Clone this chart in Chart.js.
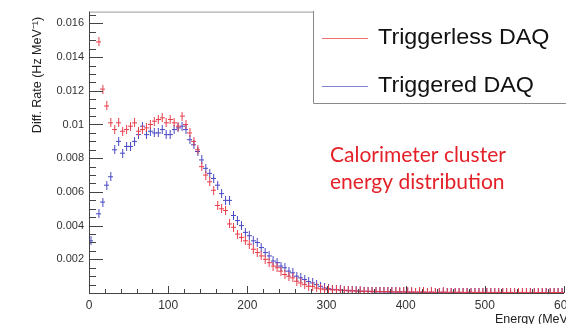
<!DOCTYPE html>
<html>
<head>
<meta charset="utf-8">
<script src="https://cdn.jsdelivr.net/npm/chart.js@4"></script>
<style>
html,body{margin:0;padding:0;background:#fff;overflow:hidden;}
#wrap{position:relative;width:620px;height:324px;}
</style>
</head>
<body>
<div id="wrap"><canvas id="c"></canvas></div>
<script>
// Bin centres (MeV)
const energies = [2.5,7.5,12.5,17.5,22.5,27.5,32.5,37.5,42.5,47.5,52.5,57.5,62.5,67.5,72.5,77.5,82.5,87.5,92.5,97.5,
102.5,107.5,112.5,117.5,122.5,127.5,132.5,137.5,142.5,147.5,152.5,157.5,162.5,167.5,172.5,177.5,182.5,187.5,192.5,197.5,
202.5,207.5,212.5,217.5,222.5,227.5,232.5,237.5,242.5,247.5,252.5,257.5,262.5,267.5,272.5,277.5,282.5,287.5,292.5,297.5,
302.5,307.5,312.5,317.5,322.5,327.5,332.5,337.5,342.5,347.5,352.5,357.5,362.5,367.5,372.5,377.5,382.5,387.5,392.5,397.5,
402.5,407.5,412.5,417.5,422.5,427.5,432.5,437.5,442.5,447.5,452.5,457.5,462.5,467.5,472.5,477.5,482.5,487.5,492.5,497.5,
502.5,507.5,512.5,517.5,522.5,527.5,532.5,537.5,542.5,547.5,552.5,557.5,562.5,567.5,572.5,577.5,582.5,587.5,592.5,597.5];

// Triggerless DAQ (Hz/MeV)
const triggerless = [null,null,0.0149,0.0121,0.0111,0.0101,0.0097,0.0101,0.0096,0.0097,
0.0099,0.0101,0.0096,0.0097,0.0098,0.0100,0.0102,0.0103,0.0104,0.0101,
0.0103,0.0101,0.0099,0.0105,0.0100,0.0095,0.0090,0.0085,0.0075,0.0070,
0.0066,0.0061,0.0052,0.0050,0.0049,0.0041,0.0039,0.0035,0.0033,0.0031,
0.0029,0.0026,0.0024,0.0022,0.0020,0.0018,0.0016,0.0015,0.0013,0.0011,
0.0010,0.0009,0.0007,0.0006,0.0005,0.0004,0.0004,0.0003,0.00025,0.0002,
0.00022,0.00018,0.00020,0.00016,0.00017,0.00012,0.00014,0.00011,0.00012,0.00009,
0.00011,0.00008,0.00010,0.00009,0.00007,0.00008,0.00009,0.00006,0.00008,0.00007,
0.00006,0.00007,0.00005,0.00006,0.00007,0.00005,0.00006,0.00004,0.00005,0.00006,
0.00004,0.00005,0.00004,0.00005,0.00003,0.00004,0.00005,0.00003,0.00004,0.00004,
0.00003,0.00004,0.00003,0.00004,0.00003,0.00003,0.00004,0.00002,0.00003,0.00004,
0.00003,0.00002,0.00003,0.00003,0.00002,0.00003,0.00002,0.00003,0.00002,0.00002];

// Triggered DAQ (Hz/MeV)
const triggered = [0.0031,null,0.0047,0.0054,0.0064,0.0069,0.0085,0.0090,0.0083,0.0087,
0.0087,0.0090,0.0094,0.0099,0.0094,0.0096,0.0095,0.0095,0.0097,0.0094,
0.0094,0.0097,0.0098,0.0099,0.0097,0.0091,0.0088,0.0084,0.0079,0.0074,
0.0071,0.0068,0.0064,0.0059,0.0055,0.0055,0.0046,0.0043,0.0040,0.0036,
0.0034,0.0031,0.0030,0.0027,0.0024,0.0022,0.0019,0.0018,0.0016,0.0015,
0.0013,0.0012,0.0010,0.0009,0.0008,0.00068,0.0006,0.0005,0.0004,0.0003,
0.00026,0.00022,0.00020,0.00018,0.00015,0.00016,0.00013,0.00012,0.00010,0.00011,
0.00009,0.00010,0.00008,0.00007,0.00008,0.00006,0.00007,0.00006,0.00005,0.00006,
0.00005,0.00004,0.00005,0.00004,0.00004,0.00003,0.00004,0.00003,0.00003,0.00004,
0.00003,0.00002,0.00003,0.00002,0.00003,0.00002,0.00002,0.00003,0.00002,0.00002,
0.00002,0.00001,0.00002,0.00002,0.00001,0.00002,0.00001,0.00001,0.00002,0.00001,
0.00001,0.00001,0.00002,0.00001,0.00001,0.00001,0.00001,0.00001,0.00001,0.00001];

const xTicks = [0,100,200,300,400,500,600];
const yTicks = [0,0.002,0.004,0.006,0.008,0.01,0.012,0.014,0.016];
const seriesNames = ['Triggerless DAQ','Triggered DAQ'];
const yTitle = 'Diff. Rate (Hz MeV\u207B\u00B9)';
const xTitle = 'Energy (MeV)';
const noteLines = ['Calorimeter cluster','energy distribution'];

const RED = 'rgb(232,62,74)';
const BLUE = 'rgb(72,72,196)';

function crossImg(color){
  const c = document.createElement('canvas');
  c.width = 5; c.height = 9;
  const g = c.getContext('2d');
  g.fillStyle = color;
  g.fillRect(0,4,5,1);
  g.fillRect(2,0,1,9);
  return c;
}

const toPts = arr => energies.map((e,i)=>({x:e,y:arr[i]})).filter(p=>p.y!==null);

const framePlugin = {
  id:'frame',
  afterDraw(chart){
    const ctx = chart.ctx, a = chart.chartArea;
    const xs = chart.scales.x, ys = chart.scales.y;
    ctx.save();
    ctx.strokeStyle = '#9a9a9a'; ctx.lineWidth = 1;
    ctx.beginPath(); ctx.moveTo(a.left, a.top+0.5); ctx.lineTo(620, a.top+0.5); ctx.stroke();
    ctx.strokeStyle = '#444';
    ctx.beginPath();
    ctx.moveTo(a.left+0.5, a.top); ctx.lineTo(a.left+0.5, a.bottom+0.5);
    ctx.lineTo(a.right, a.bottom+0.5);
    ctx.stroke();
    ctx.beginPath();
    for(let k=0;k<yTicks.length;k++){
      const v = yTicks[k];
      const p = Math.round(ys.getPixelForValue(v))+0.5;
      ctx.moveTo(a.left, p); ctx.lineTo(a.left+14, p);
      for(let m=1;m<4;m++){
        const mv = v + m*0.0005;
        if(mv>ys.max) break;
        const mp = Math.round(ys.getPixelForValue(mv))+0.5;
        ctx.moveTo(a.left, mp); ctx.lineTo(a.left+7, mp);
      }
    }
    for(let k=0;k<xTicks.length;k++){
      const v = xTicks[k];
      const p = Math.round(xs.getPixelForValue(v))+0.5;
      ctx.moveTo(p, a.bottom); ctx.lineTo(p, a.bottom-7);
      for(let m=1;m<5;m++){
        const mv = v + m*20;
        if(mv>xs.max) break;
        const mp = Math.round(xs.getPixelForValue(mv))+0.5;
        ctx.moveTo(mp, a.bottom); ctx.lineTo(mp, a.bottom-4);
      }
    }
    ctx.stroke();

    ctx.fillStyle = '#222';
    ctx.font = '12.5px "Liberation Sans", Arial, sans-serif';
    ctx.textAlign = 'right'; ctx.textBaseline = 'alphabetic';
    ctx.fillText(xTitle, 572, 323);
    ctx.save();
    ctx.translate(41, 75); ctx.rotate(-Math.PI/2);
    ctx.textAlign = 'center';
    ctx.fillText(yTitle, 0, 0);
    ctx.restore();

    ctx.fillStyle = '#fff';
    ctx.fillRect(313, 11, 320, 92);
    ctx.strokeStyle = '#8a8a8a';
    ctx.beginPath();
    ctx.moveTo(313.5, 11); ctx.lineTo(313.5, 103.5); ctx.lineTo(620, 103.5);
    ctx.stroke();
    const legCols = ['rgb(236,110,110)','rgb(130,130,210)'];
    const legY = [38, 86];
    for(let i=0;i<2;i++){
      ctx.strokeStyle = legCols[i];
      ctx.beginPath(); ctx.moveTo(322, legY[i]+0.5); ctx.lineTo(368, legY[i]+0.5); ctx.stroke();
      ctx.fillStyle = '#111';
      ctx.font = '22px "Liberation Sans", Arial, sans-serif';
      ctx.textAlign = 'left'; ctx.textBaseline = 'middle';
      ctx.save();
      ctx.translate(378, legY[i]);
      ctx.scale(1.06, 1);
      ctx.fillText(chart.data.datasets[i].label, 0, 0);
      ctx.restore();
    }

    ctx.fillStyle = 'rgb(228,32,40)';
    ctx.font = '21px Lato, "Open Sans", sans-serif';
    ctx.textAlign = 'left'; ctx.textBaseline = 'middle';
    ctx.fillText(noteLines[0], 330, 155);
    ctx.fillText(noteLines[1], 330, 182);
    ctx.restore();
  }
};

new Chart(document.getElementById('c'), {
  type:'scatter',
  data:{
    datasets:[
      {label:seriesNames[0], data:toPts(triggerless), pointStyle:crossImg(RED), pointRadius:4, borderColor:RED, backgroundColor:RED, showLine:false},
      {label:seriesNames[1], data:toPts(triggered), pointStyle:crossImg(BLUE), pointRadius:4, borderColor:BLUE, backgroundColor:BLUE, showLine:false}
    ]
  },
  options:{
    responsive:true, maintainAspectRatio:false, animation:false, devicePixelRatio:1,
    layout:{padding:{left:0, top:10, right:56, bottom:0}},
    plugins:{legend:{display:false}, tooltip:{enabled:false}},
    scales:{
      x:{
        type:'linear', min:0, max:600,
        grid:{display:false, drawTicks:false}, border:{display:false},
        afterBuildTicks(s){ s.ticks = xTicks.map(v=>({value:v})); },
        afterFit(s){ s.height = 31; },
        ticks:{padding:5, color:'#333', font:{family:'"Liberation Sans", Arial, sans-serif', size:12}, maxRotation:0, autoSkip:false,
          callback:v=>String(v)}
      },
      y:{
        type:'linear', min:0, max:0.0167,
        grid:{display:false, drawTicks:false}, border:{display:false},
        afterBuildTicks(s){ s.ticks = yTicks.map(v=>({value:v})); },
        afterFit(s){ s.width = 89; },
        ticks:{padding:5, color:'#333', font:{family:'"Liberation Sans", Arial, sans-serif', size:11}, autoSkip:false,
          callback:v=> v===0 ? '' : parseFloat(v.toFixed(3)).toString()}
      }
    }
  },
  plugins:[framePlugin]
});
</script>
</body>
</html>
